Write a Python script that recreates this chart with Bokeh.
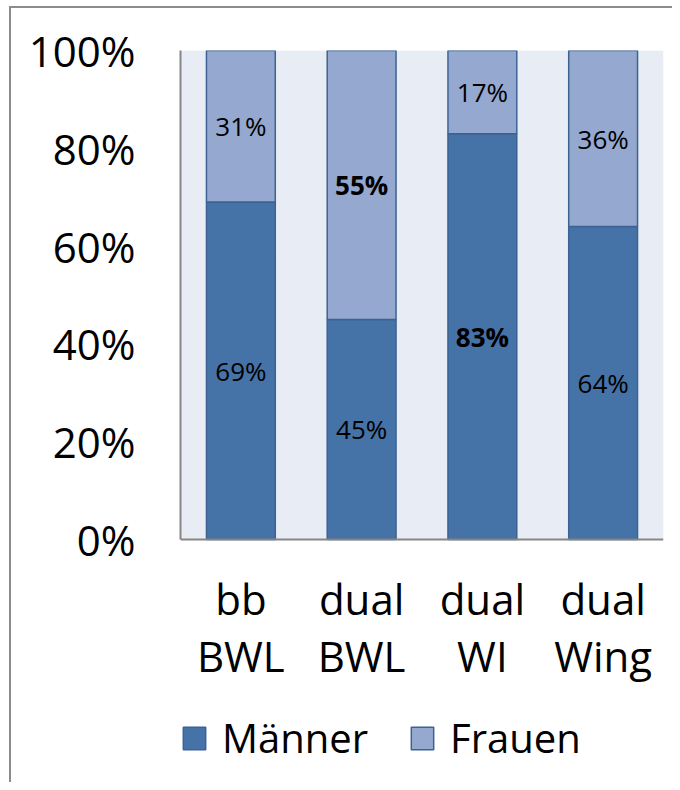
from bokeh.plotting import figure
from bokeh.models import (ColumnDataSource, FactorRange, Range1d, FixedTicker, Legend,
                          LegendItem, BoxAnnotation, Span)
from bokeh.core.properties import value
from bokeh.embed import file_html
from bokeh.resources import INLINE

categories = ["bb\nBWL", "dual\nBWL", "dual\nWI", "dual\nWing"]
maenner = [69, 45, 83, 64]
frauen = [31, 55, 17, 36]
maenner_style = ["normal", "normal", "bold", "normal"]
frauen_style = ["normal", "bold", "normal", "normal"]
y_ticks = [0, 20, 40, 60, 80, 100]
y_tick_labels = ["0%", "20%", "40%", "60%", "80%", "100%"]

FONT = "Open Sans"
DARK = "#4572A7"
LIGHT = "#94A8D0"
EDGE = "#3C6394"

# layout (pixels)
PLOT_H = 489          # height of the 0..100 % area
BELOW_H = 243         # room under the 0 line for category labels and legend
PX = PLOT_H / 100.0   # pixels per percent
LINE1_OFF = 59 / PX   # category label first line, below zero
LINE2_OFF = 116 / PX  # category label second line

src = ColumnDataSource(dict(
    cat=categories, m=maenner, f=frauen,
    m_mid=[v / 2 for v in maenner],
    f_mid=[a + b / 2 for a, b in zip(maenner, frauen)],
    m_lab=[f"{v}%" for v in maenner], f_lab=[f"{v}%" for v in frauen],
    m_sty=maenner_style, f_sty=frauen_style,
    l1=[c.split("\n")[0] for c in categories],
    l2=[c.split("\n")[1] for c in categories],
    l1_y=[-LINE1_OFF] * len(categories),
    l2_y=[-LINE2_OFF] * len(categories),
))

p = figure(frame_width=483, frame_height=PLOT_H + BELOW_H,
           x_range=FactorRange(*categories, range_padding=0),
           y_range=Range1d(-BELOW_H / PX, 100), output_backend="svg", toolbar_location=None,
           x_axis_location=None,
           min_border_left=169, min_border_right=9, min_border_top=42, min_border_bottom=0)
p.styles = {"border-top": "2px solid #8C8C8C", "border-left": "2px solid #8C8C8C",
            "margin-left": "9px", "margin-top": "6px"}
p.background_fill_color = "white"
p.outline_line_color = None
p.grid.visible = False

p.add_layout(BoxAnnotation(bottom=0, top=100, fill_color="#E8ECF4", fill_alpha=1,
                           line_color=None, level="underlay"))

r = p.vbar_stack(["m", "f"], x="cat", width=0.57, source=src,
                 fill_color=[DARK, LIGHT], line_color=EDGE, line_width=1.5)

p.add_layout(Span(location=0, dimension="width", line_color="#868686", line_width=2))

p.text(x="cat", y="m_mid", text="m_lab", source=src, text_align="center",
       text_baseline="middle", text_font=value(FONT), text_font_size="26px",
       text_font_style="m_sty", text_color="black")
p.text(x="cat", y="f_mid", text="f_lab", source=src, text_align="center",
       text_baseline="middle", text_font=value(FONT), text_font_size="26px",
       text_font_style="f_sty", text_color="black")

for col_t, col_y in (("l1", "l1_y"), ("l2", "l2_y")):
    p.text(x="cat", y=col_y, text=col_t, source=src, text_align="center",
           text_baseline="middle", text_font=value(FONT), text_font_size="42px",
           text_color="black")

ax = p.yaxis[0]
ax.ticker = FixedTicker(ticks=y_ticks)
ax.major_label_overrides = {t: l for t, l in zip(y_ticks, y_tick_labels)}
ax.bounds = (0, 100)
ax.axis_line_color = "#868686"
ax.axis_line_width = 2
ax.major_tick_line_color = None
ax.minor_tick_line_color = None
ax.major_label_text_font = FONT
ax.major_label_text_font_size = "42px"
ax.major_label_text_color = "black"
ax.major_label_standoff = 39

legend = Legend(items=[LegendItem(label="Männer", renderers=[r[0]]),
                       LegendItem(label="Frauen", renderers=[r[1]])],
                orientation="horizontal", location=(0, 17),
                glyph_width=28, glyph_height=28, label_standoff=14, spacing=40,
                label_text_font=FONT, label_text_font_size="40px",
                label_text_color="black",
                border_line_color=None, background_fill_alpha=0, padding=0, margin=0,
                label_height=42)
p.add_layout(legend, "center")

open("out.html", "w").write(file_html(p, INLINE))
